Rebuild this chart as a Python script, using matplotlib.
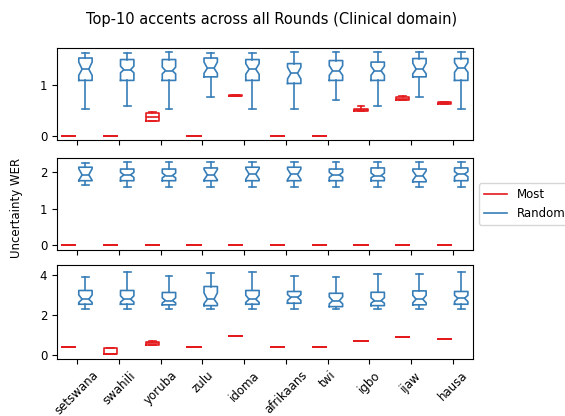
import matplotlib
matplotlib.use("Agg")
import matplotlib.pyplot as plt
from matplotlib.lines import Line2D

accents = ["setswana", "swahili", "yoruba", "zulu", "idoma",
           "afrikaans", "twi", "igbo", "ijaw", "hausa"]

# ---- Round 1 ----
r1_rand_lo   = [0.53, 0.59, 0.53, 0.77, 0.53, 0.53, 0.70, 0.59, 0.77, 0.53]
r1_rand_q1   = [1.09, 1.09, 1.09, 1.16, 1.09, 1.03, 1.09, 1.09, 1.16, 1.09]
r1_rand_med  = [1.31, 1.30, 1.28, 1.33, 1.31, 1.23, 1.28, 1.28, 1.31, 1.34]
r1_rand_q3   = [1.53, 1.50, 1.50, 1.53, 1.50, 1.42, 1.48, 1.45, 1.52, 1.52]
r1_rand_hi   = [1.63, 1.63, 1.65, 1.63, 1.63, 1.65, 1.65, 1.65, 1.65, 1.65]
r1_rand_cilo = [1.19, 1.24, 1.22, 1.23, 1.21, 1.12, 1.19, 1.19, 1.22, 1.25]
r1_rand_cihi = [1.45, 1.37, 1.35, 1.45, 1.42, 1.35, 1.38, 1.37, 1.43, 1.44]
r1_most_lo   = [0.0, 0.0, 0.29, 0.0, 0.78, 0.0, 0.0, 0.48, 0.70, 0.62]
r1_most_q1   = [0.0, 0.0, 0.30, 0.0, 0.78, 0.0, 0.0, 0.49, 0.71, 0.63]
r1_most_med  = [0.0, 0.0, 0.38, 0.0, 0.79, 0.0, 0.0, 0.51, 0.73, 0.65]
r1_most_q3   = [0.0, 0.0, 0.44, 0.0, 0.80, 0.0, 0.0, 0.53, 0.76, 0.66]
r1_most_hi   = [0.0, 0.0, 0.46, 0.0, 0.80, 0.0, 0.0, 0.59, 0.78, 0.67]

# ---- Round 2 ----
r2_rand_lo   = [1.65, 1.61, 1.61, 1.61, 1.61, 1.61, 1.61, 1.61, 1.61, 1.61]
r2_rand_q1   = [1.77, 1.77, 1.77, 1.77, 1.77, 1.77, 1.77, 1.77, 1.74, 1.77]
r2_rand_med  = [1.93, 1.93, 1.91, 1.93, 1.95, 1.94, 1.93, 1.91, 1.91, 1.95]
r2_rand_q3   = [2.14, 2.09, 2.09, 2.12, 2.14, 2.14, 2.09, 2.12, 2.09, 2.12]
r2_rand_hi   = [2.25, 2.27, 2.27, 2.27, 2.27, 2.27, 2.27, 2.27, 2.27, 2.27]
r2_rand_cilo = [1.78, 1.86, 1.85, 1.79, 1.81, 1.80, 1.86, 1.85, 1.78, 1.88]
r2_rand_cihi = [2.10, 2.00, 1.98, 2.08, 2.10, 2.09, 2.00, 1.98, 2.04, 2.02]
r2_most_lo   = [0.0] * 10
r2_most_q1   = [0.0] * 10
r2_most_med  = [0.0] * 10
r2_most_q3   = [0.0] * 10
r2_most_hi   = [0.0] * 10

# ---- Round 3 ----
r3_rand_lo   = [2.28, 2.28, 2.28, 2.28, 2.28, 2.28, 2.28, 2.28, 2.28, 2.28]
r3_rand_q1   = [2.53, 2.53, 2.50, 2.46, 2.53, 2.58, 2.41, 2.46, 2.50, 2.53]
r3_rand_med  = [2.78, 2.78, 2.71, 2.78, 2.78, 2.87, 2.71, 2.71, 2.78, 2.83]
r3_rand_q3   = [3.22, 3.22, 3.12, 3.42, 3.22, 3.17, 3.08, 3.13, 3.20, 3.17]
r3_rand_hi   = [3.89, 4.14, 3.97, 4.09, 4.17, 3.97, 3.92, 4.06, 4.06, 4.14]
r3_rand_cilo = [2.62, 2.64, 2.60, 2.56, 2.62, 2.72, 2.55, 2.58, 2.60, 2.66]
r3_rand_cihi = [3.00, 2.95, 2.85, 3.10, 2.98, 3.02, 2.90, 2.86, 2.98, 2.98]
r3_most_lo   = [0.37, 0.03, 0.49, 0.37, 0.94, 0.37, 0.37, 0.70, 0.90, 0.80]
r3_most_q1   = [0.37, 0.03, 0.50, 0.37, 0.94, 0.37, 0.37, 0.70, 0.90, 0.80]
r3_most_med  = [0.37, 0.03, 0.57, 0.37, 0.94, 0.37, 0.37, 0.70, 0.90, 0.80]
r3_most_q3   = [0.37, 0.32, 0.64, 0.37, 0.94, 0.37, 0.37, 0.70, 0.90, 0.80]
r3_most_hi   = [0.37, 0.32, 0.66, 0.37, 0.94, 0.37, 0.37, 0.70, 0.90, 0.80]

yticks_r1 = [0, 1]
yticks_r2 = [0, 1, 2]
yticks_r3 = [0, 2, 4]
ylims = [(-0.085, 1.73), (-0.13, 2.39), (-0.22, 4.5)]

MOST_C = "#e41a1c"
RAND_C = "#377eb8"


def stats(lo, q1, med, q3, hi, cilo=None, cihi=None):
    out = []
    for i in range(len(lo)):
        d = dict(whislo=lo[i], q1=q1[i], med=med[i], q3=q3[i], whishi=hi[i], fliers=[])
        if cilo is not None:
            d["cilo"] = cilo[i]
            d["cihi"] = cihi[i]
        out.append(d)
    return out


def props(c):
    return dict(boxprops=dict(color=c, linewidth=1.2),
                whiskerprops=dict(color=c, linewidth=1.2),
                capprops=dict(color=c, linewidth=1.2),
                medianprops=dict(color=c, linewidth=1.2))


panels = [
    (stats(r1_most_lo, r1_most_q1, r1_most_med, r1_most_q3, r1_most_hi),
     stats(r1_rand_lo, r1_rand_q1, r1_rand_med, r1_rand_q3, r1_rand_hi, r1_rand_cilo, r1_rand_cihi),
     yticks_r1),
    (stats(r2_most_lo, r2_most_q1, r2_most_med, r2_most_q3, r2_most_hi),
     stats(r2_rand_lo, r2_rand_q1, r2_rand_med, r2_rand_q3, r2_rand_hi, r2_rand_cilo, r2_rand_cihi),
     yticks_r2),
    (stats(r3_most_lo, r3_most_q1, r3_most_med, r3_most_q3, r3_most_hi),
     stats(r3_rand_lo, r3_rand_q1, r3_rand_med, r3_rand_q3, r3_rand_hi, r3_rand_cilo, r3_rand_cihi),
     yticks_r3),
]

fig = plt.figure(figsize=(5.65, 4.16), dpi=100)
rects = [(0.101, 0.663, 0.736, 0.222),
         (0.101, 0.399, 0.736, 0.221),
         (0.101, 0.137, 0.736, 0.226)]

n = len(accents)
base = list(range(1, n + 1))
axes = []
for k, (most, rand, yt) in enumerate(panels):
    ax = fig.add_axes(rects[k])
    ax.bxp(most, positions=[p - 0.2 for p in base], widths=0.32, showfliers=False,
           patch_artist=False, **props(MOST_C))
    ax.bxp(rand, positions=[p + 0.2 for p in base], widths=0.32, showfliers=False,
           shownotches=True, patch_artist=False, **props(RAND_C))
    ax.set_xlim(0.52, n + 0.48)
    ax.set_ylim(*ylims[k])
    ax.set_yticks(yt)
    ax.set_xticks(base)
    ax.tick_params(labelsize=8.5)
    if k < 2:
        ax.set_xticklabels([])
    else:
        ax.set_xticklabels(accents, rotation=45, fontsize=8.5)
    axes.append(ax)

handles = [Line2D([0], [0], color=MOST_C, lw=1.2), Line2D([0], [0], color=RAND_C, lw=1.2)]
axes[1].legend(handles, ["Most", "Random"], loc="center left", bbox_to_anchor=(1.0, 0.5),
               fontsize=8.5)

fig.suptitle("Top-10 accents across all Rounds (Clinical domain)", x=0.481, y=0.97, fontsize=10.5)
fig.text(0.03, 0.5, "Uncertainty WER", rotation=90, va="center", ha="center", fontsize=8.5)

fig.savefig("out.png", dpi=100)
